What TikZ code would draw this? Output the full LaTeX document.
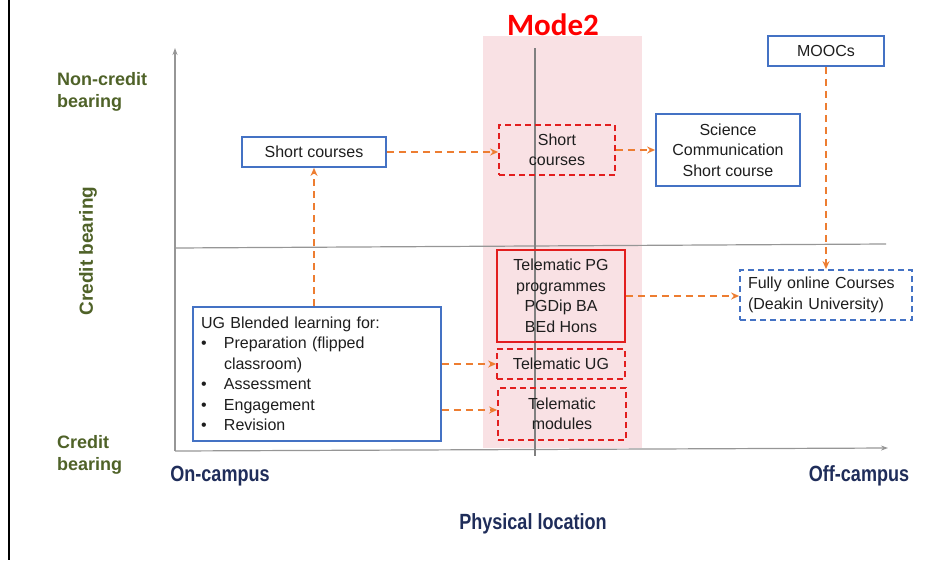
\documentclass[tikz,border=0pt]{standalone}
\usepackage{fontspec}
\setmainfont{Liberation Sans}
\newfontfamily\carlito{Carlito}
\newfontfamily\narrowfont[FakeStretch=0.82]{Liberation Sans}
\usetikzlibrary{arrows.meta}
\definecolor{bandpink}{RGB}{249,225,228}
\definecolor{boxblue}{RGB}{68,114,196}
\definecolor{boxred}{RGB}{226,30,30}
\definecolor{arrorange}{RGB}{237,125,49}
\definecolor{axgrey}{RGB}{150,150,150}
\definecolor{labgreen}{RGB}{79,98,40}
\definecolor{labnavy}{RGB}{31,45,90}
\definecolor{txt}{RGB}{30,30,30}
\tikzset{
  boxtext/.style={font=\fontsize{16}{20.5}\selectfont, text=txt, align=center, inner sep=0pt},
  bluebox/.style={boxtext, draw=boxblue, line width=1.8pt, fill=white},
  blued/.style={boxtext, draw=boxblue, line width=1.8pt, dash pattern=on 6pt off 4pt},
  redbox/.style={boxtext, draw=boxred, line width=1.8pt},
  redd/.style={boxtext, draw=boxred, line width=1.8pt, dash pattern=on 6pt off 4pt},
  arr/.style={draw=arrorange, line width=2pt, dash pattern=on 7pt off 5pt, -{Stealth[length=8pt,width=7pt,fill=arrorange]}},
  axis/.style={draw=axgrey, line width=1.2pt},
  greenlab/.style={font=\fontsize{18}{22.5}\selectfont\bfseries, text=labgreen, align=left, inner sep=0pt},
  navylab/.style={font=\narrowfont\bfseries\fontsize{22}{26}\selectfont, text=labnavy, inner sep=0pt}
}
\begin{document}
\begin{tikzpicture}[x=1pt,y=-1pt]
\useasboundingbox (0,0) rectangle (952,560);
% band
\fill[bandpink] (483,36) rectangle (642,448);
% left border
\draw[black, line width=2.5pt] (9,0) -- (9,560);
% axes
\coordinate (o) at (175,451);
\coordinate (ytop) at (175,48);
\coordinate (xend) at (888,448);
\coordinate (ml) at (175,248);
\coordinate (mr) at (886,244);
\coordinate (vt) at (535,48);
\coordinate (vb) at (535,456);
\draw[axis, -{Stealth[length=7pt,width=5pt]}] (o) -- (ytop);
\draw[axis, -{Stealth[length=7pt,width=5pt]}] (o) -- (xend);
\draw[axis] (ml) -- (mr);
\draw[axis, draw=gray] (vt) -- (vb);
% title
\node[font=\carlito\bfseries\fontsize{31}{34}\selectfont, text=red, inner sep=0pt] (mode) at (553,25) {Mode2};
% boxes
\node[bluebox, minimum width=144pt, minimum height=30pt] (sc1) at (314,152) {Short courses};
\node[redd, minimum width=116pt, minimum height=50pt] (sc2) at (557,150) {Short\\courses};
\node[bluebox, minimum width=144pt, minimum height=72pt] (sci) at (728,150) {Science\\Communication\\Short course};
\node[bluebox, minimum width=116pt, minimum height=30pt] (mooc) at (826,51) {MOOCs};
\node[redbox, minimum width=128pt, minimum height=92pt] (tpg) at (561,296) {Telematic PG\\programmes\\PGDip BA\\BEd Hons};
\node[redd, minimum width=128pt, minimum height=30pt] (tug) at (561,364) {Telematic UG};
\node[redd, minimum width=128pt, minimum height=52pt] (tmod) at (562,414) {Telematic\\modules};
\node[bluebox, minimum width=248pt, minimum height=134pt, text width=232pt, inner xsep=8pt, align=left] (ug) at (317,374)
  {UG Blended learning for:\\
   \makebox[23pt][l]{\textbullet}Preparation (flipped\\
   \hspace*{23pt}classroom)\\
   \makebox[23pt][l]{\textbullet}Assessment\\
   \makebox[23pt][l]{\textbullet}Engagement\\
   \makebox[23pt][l]{\textbullet}Revision};
\node[blued, minimum width=172pt, minimum height=50pt, text width=156pt, inner xsep=8pt, align=left] (fo) at (826,295)
  {Fully online Courses\\(Deakin University)};
% arrows
\draw[arr] (sc1.east) -- (sc1.east -| sc2.west);
\draw[arr] (sc2.east) -- (sc2.east -| sci.west);
\draw[arr] (sc1.south |- ug.north) -- (sc1.south);
\draw[arr] (ug.east |- tug.west) -- (tug.west);
\draw[arr] ([yshift=4pt]ug.east |- tmod.west) -- ([yshift=4pt]tmod.west);
\draw[arr] (tpg.east) -- (tpg.east -| fo.west);
\draw[arr] (mooc.south) -- (mooc.south |- fo.north);
% labels
\node[greenlab, anchor=west] (nc) at (57,92) {Non-credit\\bearing};
\node[greenlab, anchor=west] (cb) at (57,455) {Credit\\bearing};
\node[greenlab, rotate=90, font=\fontsize{19}{22}\selectfont\bfseries] (cbr) at (88,251) {Credit bearing};
\node[navylab] (onc) at (220,476) {On-campus};
\node[navylab] (offc) at (859,476) {Off-campus};
\node[navylab] (phys) at (533,524) {Physical location};
\end{tikzpicture}
\end{document}
